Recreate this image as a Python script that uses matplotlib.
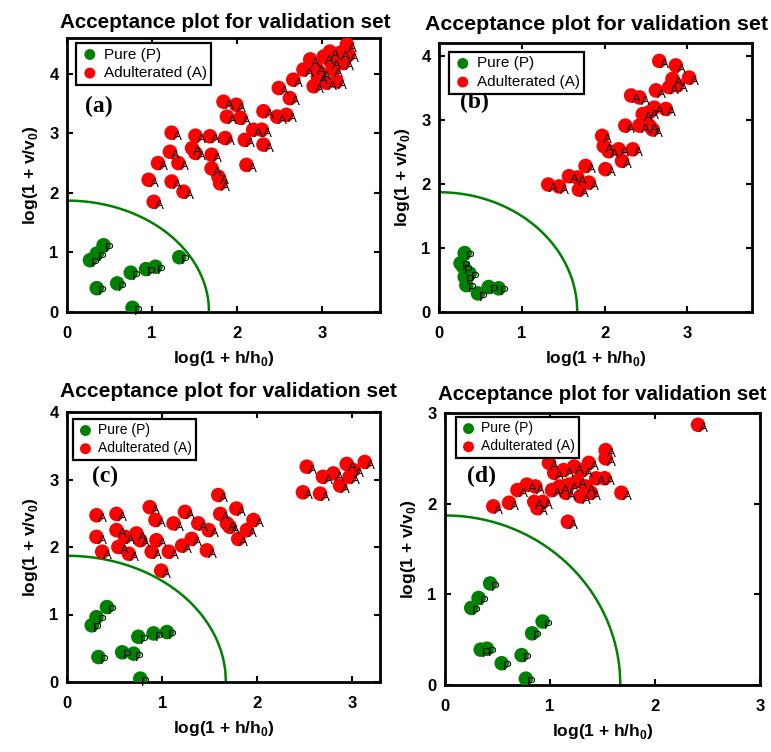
import numpy as np
import matplotlib
matplotlib.use("Agg")
import matplotlib.pyplot as plt

plt.rcParams['font.family'] = ['Liberation Sans', 'DejaVu Sans']
plt.rcParams['mathtext.fontset'] = 'custom'
plt.rcParams['mathtext.rm'] = 'Liberation Sans'
plt.rcParams['mathtext.bf'] = 'Liberation Sans:bold'

# ---------------- data ----------------
# panel (a)
a_pure_x = [0.27, 0.35, 0.43, 0.35, 0.59, 0.75, 0.93, 1.04, 0.77, 1.32]
a_pure_y = [0.87, 0.98, 1.12, 0.40, 0.48, 0.66, 0.72, 0.76, 0.07, 0.92]
a_adul_x = [0.96, 1.02, 1.07, 1.23, 1.21, 1.23, 1.31, 1.37, 1.51, 1.47, 1.51, 1.68,
            1.70, 1.70, 1.78, 1.80, 1.86, 2.11, 1.84, 1.88, 1.99, 2.04, 2.09, 2.19,
            2.29, 2.31, 2.31, 2.47, 2.49, 2.58, 2.66, 2.62, 2.78, 2.86, 2.90, 2.98,
            3.02, 3.09, 3.13, 3.17, 3.25, 3.29, 3.31, 3.21, 2.95, 3.05, 3.10, 2.93]
a_adul_y = [2.22, 1.85, 2.50, 3.01, 2.69, 2.19, 2.50, 2.02, 2.96, 2.75, 2.67, 2.95,
            2.64, 2.41, 2.27, 2.16, 2.92, 2.47, 3.53, 3.28, 3.48, 3.26, 2.89, 3.06,
            3.06, 2.81, 3.37, 3.28, 3.76, 3.31, 3.90, 3.59, 4.07, 4.24, 3.79, 4.01,
            4.29, 4.37, 4.07, 3.87, 4.18, 4.49, 4.32, 4.35, 3.95, 3.85, 4.20, 4.10]

# panel (b)
b_pure_x = [0.26, 0.31, 0.29, 0.31, 0.33, 0.47, 0.60, 0.72, 0.37]
b_pure_y = [0.76, 0.92, 0.71, 0.55, 0.42, 0.29, 0.39, 0.37, 0.60]
b_adul_x = [1.32, 1.45, 1.57, 1.69, 1.67, 1.77, 1.81, 1.97, 1.99, 2.01, 2.05, 2.17,
            2.21, 2.25, 2.34, 2.32, 2.42, 2.42, 2.46, 2.54, 2.58, 2.60, 2.62, 2.74,
            2.66, 2.78, 2.82, 2.86, 2.88, 3.02, 2.54]
b_adul_y = [1.99, 1.96, 2.12, 1.91, 2.10, 2.28, 2.02, 2.75, 2.59, 2.23, 2.51, 2.54,
            2.36, 2.91, 2.54, 3.38, 3.35, 2.91, 3.09, 2.91, 2.85, 3.19, 3.46, 3.17,
            3.92, 3.51, 3.64, 3.85, 3.54, 3.66, 3.12]

# panel (c)
c_pure_x = [0.26, 0.31, 0.42, 0.33, 0.58, 0.70, 0.75, 0.91, 1.05, 0.77]
c_pure_y = [0.84, 0.96, 1.11, 0.37, 0.44, 0.42, 0.67, 0.72, 0.74, 0.05]
c_adul_x = [0.31, 0.31, 0.37, 0.52, 0.52, 0.54, 0.65, 0.61, 0.73, 0.77, 0.87, 0.89,
            0.93, 0.94, 0.99, 1.07, 1.12, 1.21, 1.24, 1.31, 1.38, 1.47, 1.49, 1.59,
            1.61, 1.68, 1.78, 1.80, 1.96, 1.89, 1.71, 2.52, 2.48, 2.66, 2.69, 2.80,
            2.87, 2.94, 2.97, 3.13, 3.01]
c_adul_y = [2.47, 2.15, 1.93, 2.49, 2.25, 2.00, 1.90, 2.15, 2.20, 2.10, 2.59, 1.93,
            2.40, 2.10, 1.65, 1.93, 2.35, 2.02, 2.52, 2.12, 2.35, 1.95, 2.25, 2.77,
            2.49, 2.35, 2.57, 2.12, 2.40, 2.25, 2.30, 3.19, 2.81, 2.79, 3.04, 3.09,
            2.91, 3.23, 3.04, 3.26, 3.14]

# panel (d)
d_pure_x = [0.25, 0.32, 0.43, 0.34, 0.40, 0.54, 0.73, 0.83, 0.93, 0.77]
d_pure_y = [0.85, 0.96, 1.12, 0.39, 0.40, 0.24, 0.33, 0.57, 0.70, 0.07]
d_adul_x = [0.46, 0.61, 0.69, 0.78, 0.86, 0.85, 0.88, 0.93, 0.99, 1.02, 1.04, 1.09,
            1.13, 1.17, 1.18, 1.23, 1.26, 1.31, 1.29, 1.34, 1.37, 1.39, 1.44, 1.52,
            1.53, 1.53, 1.68, 2.41, 1.15]
d_adul_y = [1.97, 2.01, 2.15, 2.21, 2.19, 2.02, 1.95, 2.02, 2.45, 2.15, 2.34, 2.19,
            2.37, 1.80, 2.21, 2.41, 2.25, 2.37, 2.08, 2.19, 2.45, 2.12, 2.28, 2.28,
            2.59, 2.50, 2.12, 2.87, 2.12]

# acceptance boundary (elliptical) parameters
h_lim = 1.67
v_lim = 1.87

panel_letters = ['(a)', '(b)', '(c)', '(d)']
title_text = 'Acceptance plot for validation set'
legend_labels = ['Pure (P)', 'Adulterated (A)']

# ---------------- layout ----------------
W, H = 771, 752
fig = plt.figure(figsize=(W / 100, H / 100), dpi=100)

def px_axes(l, r, t, b):
    return [l / W, 1 - b / H, (r - l) / W, (b - t) / H]

panels = [
    dict(rect=px_axes(67, 380, 38, 312), xlim=3.68, ylim=4.6, yt=[0, 1, 2, 3, 4], xt=[0, 1, 2, 3],
         pure=(a_pure_x, a_pure_y), adul=(a_adul_x, a_adul_y), leg=(0.029, 0.982), lfs=11.0,
         let=(0.058, 0.75), title=(60, 23), tfs=14.9),
    dict(rect=px_axes(439, 752, 43, 312), xlim=3.78, ylim=4.2, yt=[0, 1, 2, 3, 4], xt=[0, 1, 2, 3],
         pure=(b_pure_x, b_pure_y), adul=(b_adul_x, b_adul_y), leg=(0.032, 0.967), lfs=11.0,
         let=(0.067, 0.78), title=(425, 25), tfs=15.4),
    dict(rect=px_axes(67, 380, 412, 682), xlim=3.29, ylim=4.0, yt=[0, 1, 2, 3, 4], xt=[0, 1, 2, 3],
         pure=(c_pure_x, c_pure_y), adul=(c_adul_x, c_adul_y), leg=(0.019, 0.974), lfs=10.0,
         let=(0.08, 0.76), title=(60, 391), tfs=15.1),
    dict(rect=px_axes(445, 760, 413, 685), xlim=3.0, ylim=3.0, yt=[0, 1, 2, 3], xt=[0, 1, 2, 3],
         pure=(d_pure_x, d_pure_y), adul=(d_adul_x, d_adul_y), leg=(0.035, 0.985), lfs=10.0,
         let=(0.07, 0.765), title=(438, 395), tfs=14.8),
]

GREEN = '#008000'
RED = '#ff0000'

for i, p in enumerate(panels):
    ax = fig.add_axes(p['rect'])
    ax.set_xlim(0, p['xlim'])
    ax.set_ylim(0, p['ylim'])
    ax.set_xticks(p['xt'])
    ax.set_yticks(p['yt'])
    ax.tick_params(direction='in', top=True, right=True, length=4, width=1.5,
                   labelsize=12)
    ax.tick_params(axis='x', pad=10)
    ax.tick_params(axis='y', pad=6)
    for lab in ax.get_xticklabels() + ax.get_yticklabels():
        lab.set_fontweight('bold')
    for s in ax.spines.values():
        s.set_linewidth(2.0)
        s.set_color('black')

    hx = np.linspace(0, h_lim, 300)
    vy = v_lim * np.sqrt(np.clip(1 - (hx / h_lim) ** 2, 0, None))
    ax.plot(hx, vy, color=GREEN, lw=1.8, zorder=2)

    px, py = p['pure']
    qx, qy = p['adul']
    ax.scatter(px, py, s=110, color=GREEN, edgecolors='none', zorder=3, label=legend_labels[0])
    ax.scatter(qx, qy, s=110, color=RED, edgecolors='none', zorder=3, label=legend_labels[1])
    for x, y in zip(px, py):
        ax.annotate('P', (x, y), xytext=(4, -3), textcoords='offset points',
                    ha='center', va='center', fontsize=9.5, color='black', zorder=4)
    for x, y in zip(qx, qy):
        ax.annotate('A', (x, y), xytext=(4, -3), textcoords='offset points',
                    ha='center', va='center', fontsize=9.5, color='black', zorder=4)

    leg = ax.legend(loc='upper left', bbox_to_anchor=p['leg'], borderaxespad=0,
                    fancybox=False, framealpha=1, edgecolor='black', fontsize=p['lfs'],
                    markerscale=0.75, handletextpad=0.3, borderpad=0.3, labelspacing=0.3,
                    handlelength=1.2)
    leg.get_frame().set_linewidth(1.6)

    ax.text(p['let'][0], p['let'][1], panel_letters[i], transform=ax.transAxes,
            fontsize=17, fontweight='bold', family='Liberation Serif', ha='left', va='center')

    ax.set_xlabel(r'log(1 + h/h$_\mathbf{0}$)', fontsize=12.5, fontweight='bold', labelpad=6)
    ax.set_ylabel(r'log(1 + v/v$_\mathbf{0}$)', fontsize=12.5, fontweight='bold', labelpad=7)

    tx, ty = p['title']
    fig.text(tx / W, 1 - ty / H, title_text, fontsize=p['tfs'], fontweight='bold',
             ha='left', va='center')

fig.savefig('out.png', dpi=100)
